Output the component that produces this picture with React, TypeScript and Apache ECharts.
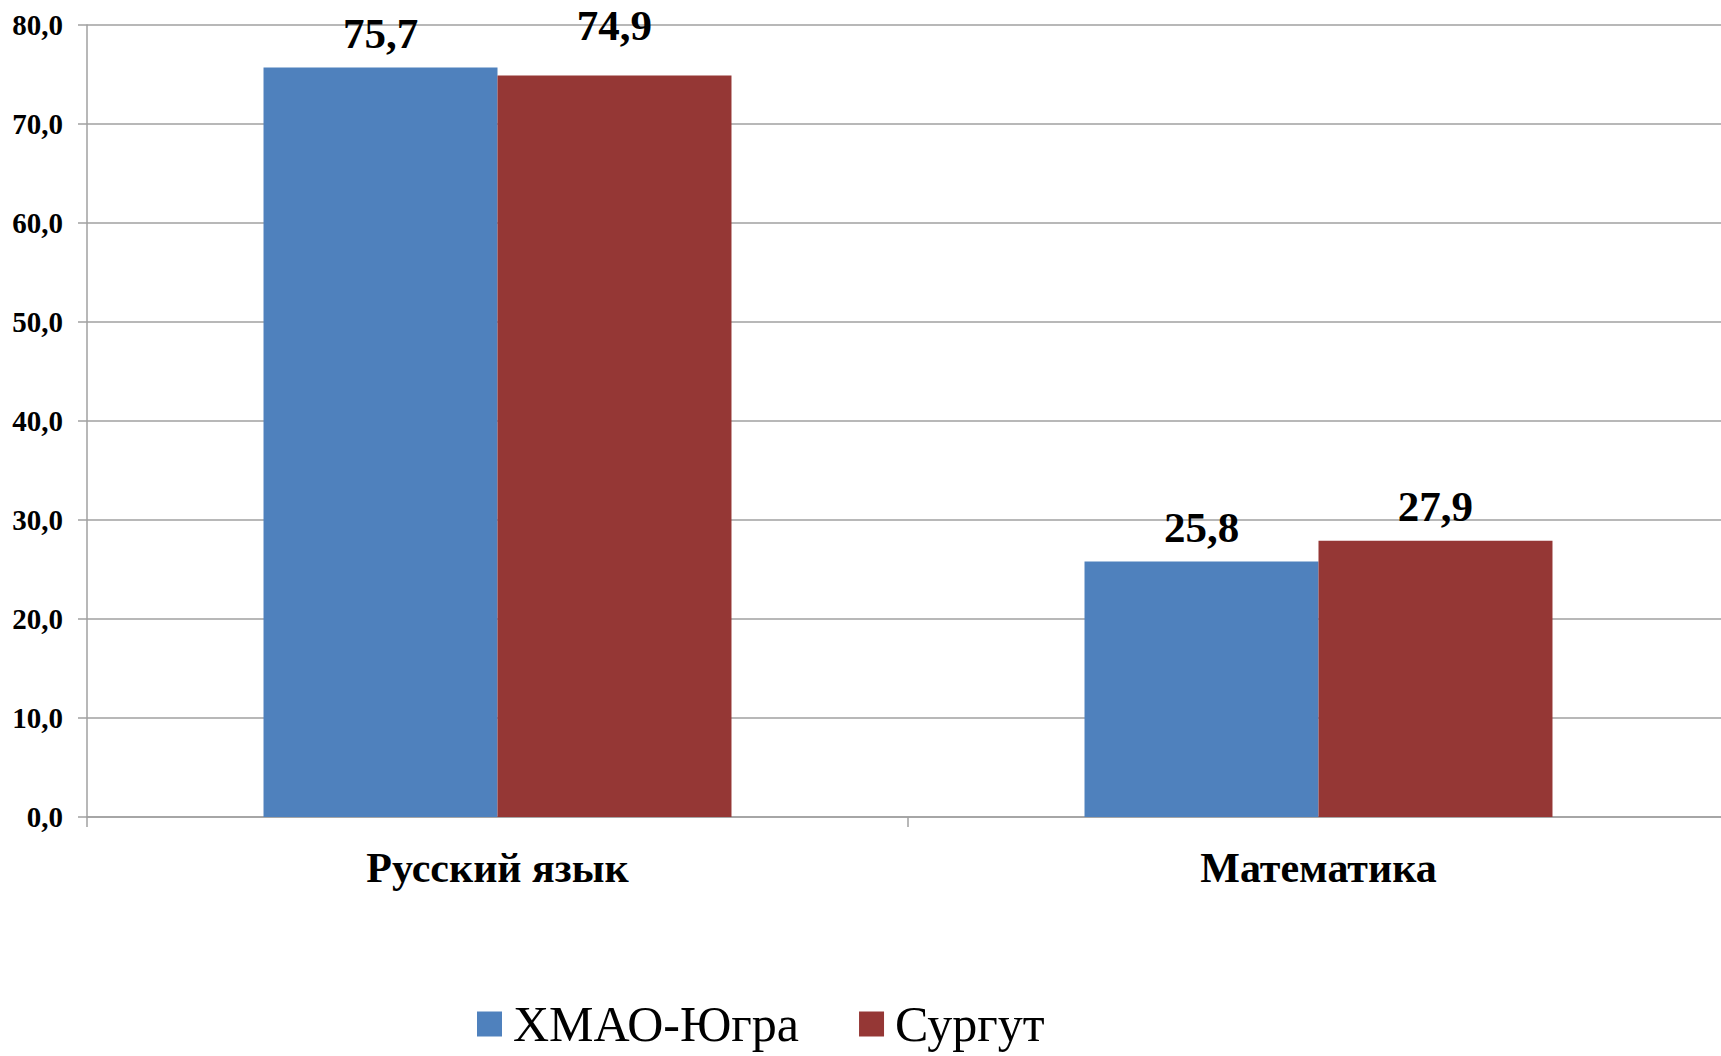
import React, { useEffect, useRef } from "react";
import * as echarts from "echarts";

const categories = ["Русский язык", "Математика"];
const seriesNames = ["ХМАО-Югра", "Сургут"];
const hmaoValues = [75.7, 25.8];
const surgutValues = [74.9, 27.9];
const yTicks = { min: 0, max: 80, interval: 10 };

const colors = ["#4F81BD", "#953735"];
const FONT = "Liberation Serif";

const fmt = (v: number) => v.toFixed(1).replace(".", ",");

export default function App() {
  const ref = useRef<HTMLDivElement>(null);
  useEffect(() => {
    document.body.style.margin = "0";
    if (!ref.current) return;
    const chart = echarts.init(ref.current, undefined, { renderer: "svg" });
    const labelCommon = {
      show: true,
      position: "top" as const,
      distance: 13,
      fontFamily: FONT,
      fontWeight: "bold" as const,
      fontSize: 43,
      color: "#000",
      formatter: (p: any) => fmt(p.value),
    };
    chart.setOption({
      animation: false,
      backgroundColor: "#fff",
      grid: { left: 87, right: 0, top: 25, bottom: 239, containLabel: false },
      legend: {
        data: seriesNames,
        left: 477,
        top: 999,
        itemWidth: 25,
        itemHeight: 25,
        itemGap: 60,
        icon: "rect",
        padding: 0,
        textStyle: {
          fontFamily: FONT,
          fontSize: 50,
          lineHeight: 50,
          color: "#000",
          padding: [0, 0, 0, 6],
        },
      },
      xAxis: {
        type: "category",
        data: categories,
        axisLine: { show: true, lineStyle: { color: "#a0a0a0", width: 1.5 } },
        axisTick: { show: true, length: 10, lineStyle: { color: "#a0a0a0", width: 1.5 } },
        axisLabel: {
          margin: 30,
          fontFamily: FONT,
          fontWeight: "bold",
          fontSize: 42,
          color: "#000",
        },
      },
      yAxis: {
        type: "value",
        min: yTicks.min,
        max: yTicks.max,
        interval: yTicks.interval,
        axisLine: { show: true, lineStyle: { color: "#a0a0a0", width: 1.5 } },
        axisTick: { show: true, length: 9, lineStyle: { color: "#a0a0a0", width: 1.5 } },
        splitLine: { show: true, lineStyle: { color: "#a0a0a0", width: 1.5 } },
        axisLabel: {
          margin: 24,
          fontFamily: FONT,
          fontWeight: "bold",
          fontSize: 29,
          color: "#000",
          formatter: (v: number) => fmt(v),
        },
      },
      series: [
        {
          name: seriesNames[0],
          type: "bar",
          data: hmaoValues,
          itemStyle: { color: colors[0] },
          barGap: "0%",
          barCategoryGap: "43%",
          label: labelCommon,
        },
        {
          name: seriesNames[1],
          type: "bar",
          data: surgutValues.map((v, i) =>
            i === 0 ? { value: v, label: { offset: [0, -15] } } : v
          ),
          itemStyle: { color: colors[1] },
          barGap: "0%",
          barCategoryGap: "43%",
          label: labelCommon,
        },
      ],
    });
    return () => chart.dispose();
  }, []);
  return (
    <div style={{ width: 1721, height: 1056, overflow: "hidden" }}>
      <div ref={ref} style={{ width: 1729, height: 1056 }} />
    </div>
  );
}
